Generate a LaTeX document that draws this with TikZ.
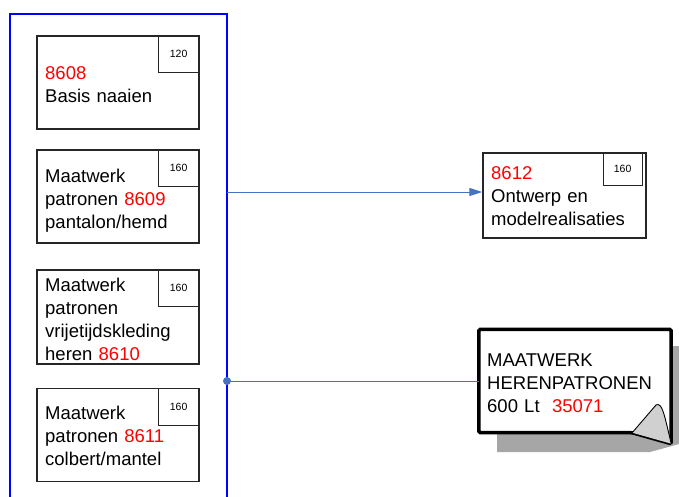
\documentclass[tikz,border=0pt]{standalone}
\usepackage{fontspec}
\setmainfont{Liberation Sans}
\usetikzlibrary{arrows.meta}

\definecolor{pijlblauw}{HTML}{4472C4}
\definecolor{schaduw}{HTML}{A6A6A6}
\definecolor{flapgrijs}{HTML}{D0D0D0}

\begin{document}
\begin{tikzpicture}[x=1pt,y=-1pt,
    vak/.style={draw=black!85,line width=1.4pt,minimum width=162pt,inner sep=0pt},
    uren/.style={draw=black!85,line width=1.1pt,minimum width=41pt,minimum height=37pt,inner sep=0pt,font=\fontsize{10.5}{12}\selectfont},
    tekst/.style={anchor=base west,inner sep=0pt,align=left,text width=160pt,font=\fontsize{18.5}{23}\selectfont},
    verbinding/.style={draw=pijlblauw,line width=0.9pt}]
    \clip (0,0) rectangle (679,496);
    \draw[blue,line width=1.2pt] (10,14) rectangle (227,510);

    % cursussen links
    \node[vak,minimum height=93pt] (b8608) at (118,82.5) {};
    \node[uren,anchor=north east] (u8608) at (b8608.north east) {120};
    \node[tekst] (t8608) at (45,79) {\textcolor{red}{8608}\\Basis naaien};

    \node[vak,minimum height=93pt] (b8609) at (118,196.5) {};
    \node[uren,anchor=north east] (u8609) at (b8609.north east) {160};
    \node[tekst] (t8609) at (45,182) {Maatwerk\\patronen \textcolor{red}{8609}\\pantalon/hemd};

    \node[vak,minimum height=94pt] (b8610) at (118,317) {};
    \node[uren,anchor=north east] (u8610) at (b8610.north east) {160};
    \node[tekst] (t8610) at (45,291) {Maatwerk\\patronen\\vrijetijdskleding\\heren \textcolor{red}{8610}};

    \node[vak,minimum height=93pt] (b8611) at (118,435) {};
    \node[uren,anchor=north east] (u8611) at (b8611.north east) {160};
    \node[tekst] (t8611) at (45,419) {Maatwerk\\patronen \textcolor{red}{8611}\\colbert/mantel};

    % vervolg
    \node[vak,minimum width=163pt,minimum height=85pt] (b8612) at (564.5,195.5) {};
    \node[uren,minimum width=39pt,minimum height=33pt,anchor=north east] (u8612) at ([xshift=-4pt]b8612.north east) {160};
    \node[tekst] (t8612) at (491,179) {\textcolor{red}{8612}\\Ontwerp en\\modelrealisaties};

    % notitie
    \node[minimum width=192pt,minimum height=103pt,inner sep=0pt] (note) at (575,381) {};
    \fill[schaduw] (497,346) -- (690,346) -- (690,441) -- (650,452) -- (497,452) -- cycle;
    \draw[line width=3.5pt,fill=white,rounded corners=1.5pt] (note.north west) -- (note.north east) -- ([shift={(0,11)}]note.south east) -- ([shift={(-39,0)}]note.south east) -- (note.south west) -- cycle;
    \filldraw[fill=flapgrijs,line width=0.9pt,line join=round] ([shift={(-39,0)}]note.south east) -- (656,405) .. controls (662,402) and (664,413) .. ([shift={(0,11)}]note.south east);
    \node[tekst] (tnote) at (487,366) {MAATWERK\\HERENPATRONEN\\600 Lt\ \ \textcolor{red}{35071}};

    % verbindingen
    \coordinate (c8612) at (227,192);
    \draw[verbinding,-{Triangle[length=13pt,width=8pt]}] (c8612) -- (c8612 -| b8612.west);
    \coordinate (cnote) at (227,381);
    \draw[verbinding] (cnote) -- (cnote -| note.west);
    \fill[pijlblauw] (cnote) circle (4pt);
\end{tikzpicture}
\end{document}
